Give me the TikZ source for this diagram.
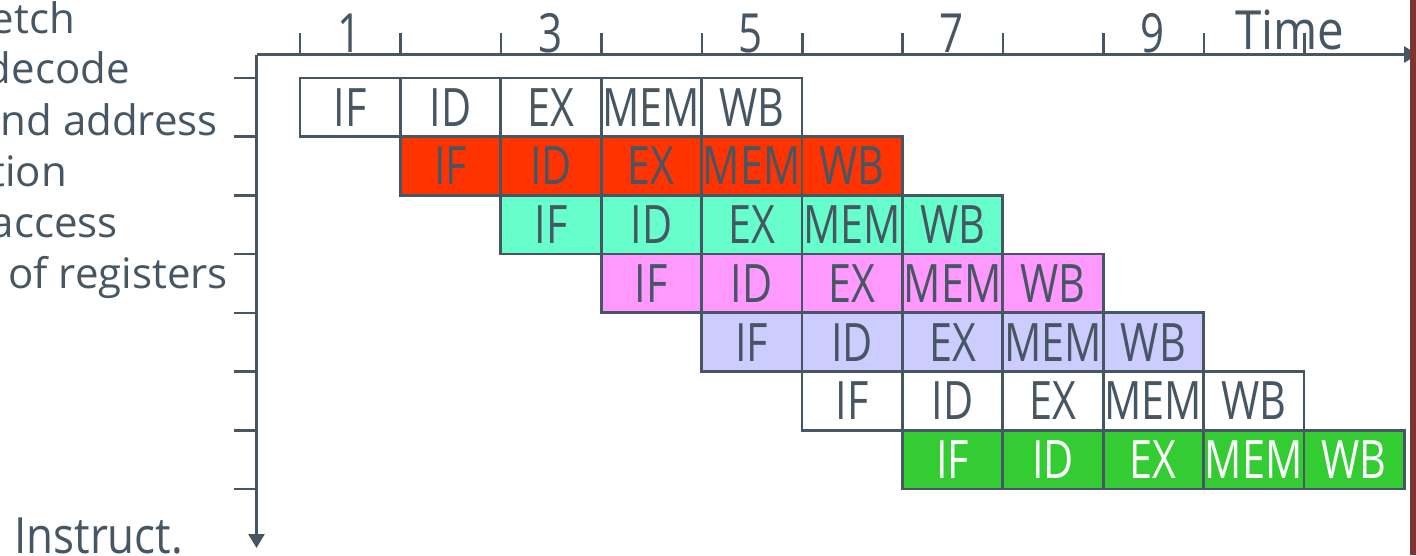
\documentclass[tikz,border=0pt]{standalone}
\usepackage{fontspec}
\setmainfont{Open Sans}
\newfontfamily\cond{Open Sans}[FakeStretch=0.78]
\newfontfamily\semicond{Open Sans}[FakeStretch=0.88]
\usetikzlibrary{arrows.meta}
\definecolor{ink}{HTML}{465663}
\definecolor{cred}{HTML}{FF3300}
\definecolor{caqua}{HTML}{66FFCC}
\definecolor{cpink}{HTML}{FF99FF}
\definecolor{clav}{HTML}{CCCCFF}
\definecolor{cgreen}{HTML}{33CC33}
\definecolor{barred}{HTML}{7F3333}
\tikzset{
  stagebox/.style={draw=ink, line width=2.7pt, minimum width=100.4pt, minimum height=58.7pt,
    inner sep=0pt, font=\cond\fontsize{53}{53}\selectfont},
  axisline/.style={draw=ink, line width=2.6pt},
  numlab/.style={anchor=base, inner sep=0pt, text=ink, font=\cond\fontsize{54}{54}\selectfont},
  sidetext/.style={anchor=base east, inner sep=0pt, text=ink, font=\fontsize{42}{42}\selectfont},
}
\begin{document}
\begin{tikzpicture}[x=1pt,y=-1pt]
\useasboundingbox (0,0) rectangle (1416,555);
% stages
\foreach \r/\fc/\tc in {1/white/ink,2/cred/ink,3/caqua/ink,4/cpink/ink,5/clav/ink,6/white/ink,7/cgreen/white} {
  \foreach \s [count=\k from 0] in {IF,ID,EX,MEM,WB} {
    \node[stagebox, fill=\fc, text=\tc] (s\r-\k) at ({350.2+100.4*(\r-1+\k)}, {107.35+58.7*(\r-1)}) {\s};
  }
}
% axes
\coordinate (origin) at (256.5,54.5);
\coordinate (tend) at (1418,54.5);
\coordinate (iend) at (256.5,548);
\draw[axisline, -{Triangle[width=16pt,length=14pt]}] (origin) -- (tend);
\draw[axisline, -{Triangle[width=16pt,length=14pt]}] (origin) -- (iend);
\foreach \i in {0,...,10} \draw[axisline] ({300+100.45*\i},54.5) -- ++(0,-22);
\foreach \j in {0,...,7} \draw[axisline] (234,{78+58.7*\j}) -- (256.5,{78+58.7*\j});
% time labels
\foreach \n/\x in {1/350,3/551,5/751,7/952,9/1153} \node[numlab] (t\n) at (\x,52) {\n};
\node[anchor=base, inner sep=0pt, text=ink, font=\semicond\fontsize{54}{54}\selectfont] (time) at (1290,49) {Time};
% side text
\node[sidetext] (l1) at (75,33) {etch};
\node[sidetext] (l2) at (130,83) {decode};
\node[sidetext] (l3) at (218,135) {and address};
\node[sidetext] (l4) at (67,186) {tion};
\node[sidetext] (l5) at (118,237) {access};
\node[sidetext] (l6) at (228,288) {of registers};
\node[anchor=base west, inner sep=0pt, text=ink, font=\semicond\fontsize{50}{50}\selectfont] (instr) at (14,553) {Instruct.};
% right bar
\fill[barred] (1410,0) rectangle (1416,555);
\end{tikzpicture}
\end{document}
